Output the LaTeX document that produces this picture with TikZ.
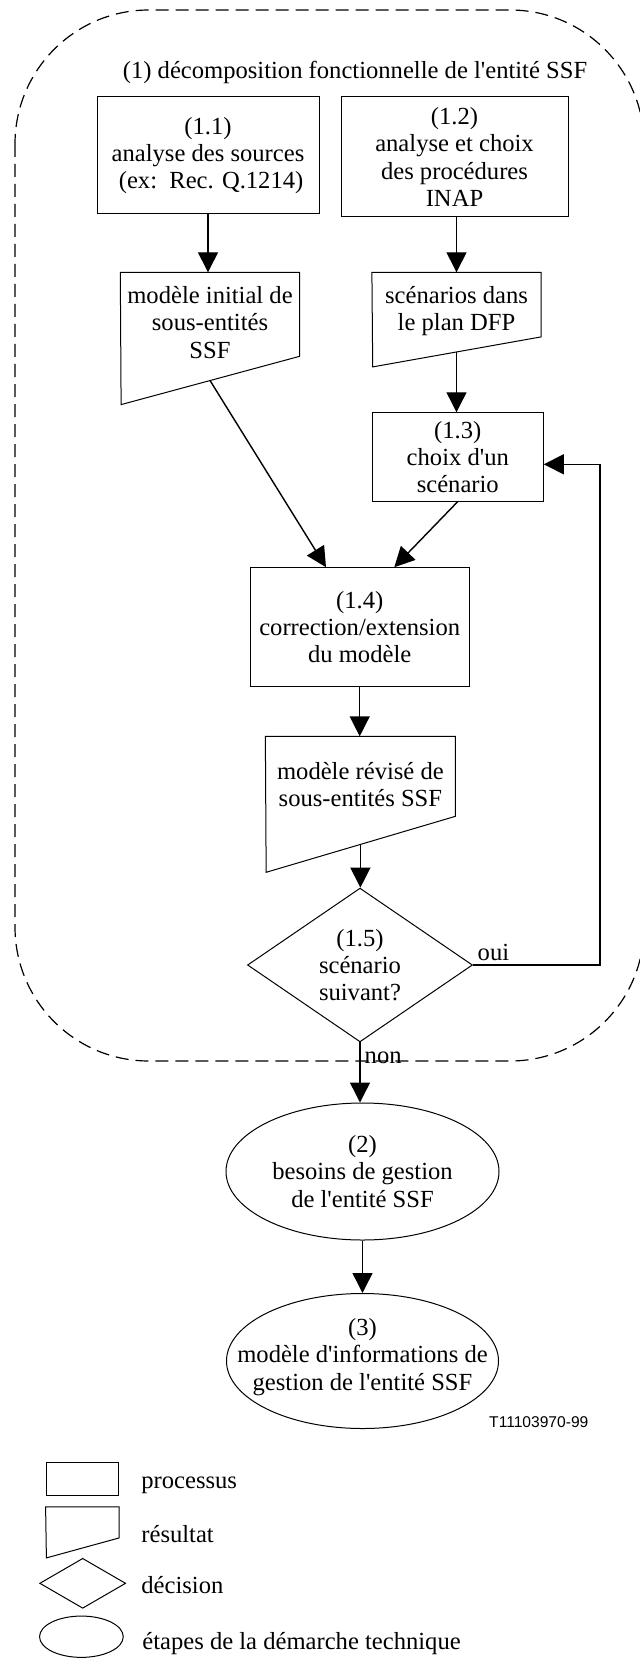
\documentclass[tikz,border=0pt]{standalone}
\usepackage{fontspec}
\setmainfont{Liberation Serif}
\newfontfamily\numfont{Liberation Sans}
\usetikzlibrary{shapes.geometric, arrows.meta}

\begin{document}
\begin{tikzpicture}[x=0.5pt, y=-0.5pt,
  font=\fontsize{12.3}{13.6}\selectfont,
  processus/.style={rectangle, draw=black, line width=0.5pt, inner sep=0pt, align=center},
  resultat/.style={rectangle, inner sep=0pt, align=center},
  decision/.style={diamond, draw=black, line width=0.5pt, inner sep=0pt, align=center},
  etape/.style={ellipse, draw=black, line width=0.5pt, inner sep=0pt},
  legende/.style={anchor=base west, inner sep=0pt},
  fleche/.style={line width=0.7pt, -{Triangle[length=10pt, width=10pt]}},
  cadre/.style={dash pattern=on 6.5pt off 3.5pt, line width=0.6pt, rounded corners=67pt}
]
\useasboundingbox (0,0) rectangle (640,1658);

\draw [cadre] (15,10) rectangle (644,1061);

\node (titre) at (355,72) {(1) décomposition fonctionnelle de l\textquotesingle entité SSF};
\node (p11) [processus, minimum width=111pt, minimum height=58.5pt] at (208,155.5) {(1.1)\\analyse des sources\\\ (ex:\ \ Rec. Q.1214)};
\node (p12) [processus, minimum width=113.5pt, minimum height=60pt] at (454.5,157) {(1.2)\\analyse et choix\\des procédures\\INAP};
\node (r11) [resultat, minimum width=89.3pt, minimum height=49.8pt] at (210,322.5) {modèle initial de\\sous-entités\\SSF};
\node (r12) [resultat, minimum width=84.2pt, minimum height=38.5pt] at (456.5,311.2) {scénarios dans\\le plan DFP};
\node (p13) [processus, minimum width=85.5pt, minimum height=44.15pt] at (457.8,456.9) {(1.3)\\choix d\textquotesingle un\\scénario};
\node (p14) [processus, minimum width=109.35pt, minimum height=59.5pt] at (359.7,627.2) {(1.4)\\correction/extension\\du modèle};
\node (r14) [resultat, minimum width=94.65pt, minimum height=47.8pt] at (360.4,784.5) {modèle révisé de\\sous-entités SSF};
\node (d15) [decision, minimum width=112.5pt, minimum height=65.5pt] at (360,965) {(1.5)\\scénario\\suivant?};
\node (e2) [etape, minimum width=136.5pt, minimum height=68.5pt,
  label={[name=e2t, align=center]center:{(2)\\besoins de gestion\\de l\textquotesingle entité SSF}}] at (362.5,1171.5) {};
\node (e3) [etape, minimum width=136pt, minimum height=67.5pt,
  label={[name=e3t, align=center, yshift=2pt]center:{(3)\\modèle d\textquotesingle informations de\\gestion de l\textquotesingle entité SSF}}] at (362.5,1361) {};
\node (num) [font=\numfont\fontsize{7.8}{9}\selectfont] at (538.8,1421.7) {T11103970-99};

\draw [line width=0.5pt] (r11.north west) -- (r11.north east) -- ++(0,84) -- ++(-178.6,48.3) -- cycle;
\draw [line width=0.5pt] (r12.north west) -- (r12.north east) -- ++(0,64.6) -- ++(-168.4,30) -- cycle;
\draw [line width=0.5pt] (r14.north west) -- (r14.north east) -- ++(0,80) -- ++(-189.3,56) -- cycle;

\coordinate (r11s) at ([yshift=-54.1pt]r11.north);
\coordinate (r12s) at ([yshift=-39.8pt]r12.north);
\coordinate (r14s) at ([yshift=-54pt]r14.north);
\coordinate (retour) at (600,700);

\draw [fleche] (p11.south) -- (p11.south |- r11.north);
\draw [fleche] (r12.north |- p12.south) -- (r12.north);
\draw [fleche] (r12s) -- (r12s |- p13.north);
\draw [fleche] (r11s) -- ([xshift=-16.85pt]p14.north);
\draw [fleche] (p13.south) -- ([xshift=17.3pt]p14.north);
\draw [fleche] (p14.south) -- (p14.south |- r14.north);
\draw [fleche] (r14s) -- (r14s |- d15.north);
\draw [fleche] (d15.east) node[anchor=base west, yshift=2.5pt, inner sep=2pt] {oui} -| (retour) |- ([yshift=-3.7pt]p13.east);
\draw [fleche] (d15.south) -- (d15.south |- e2.north) node[pos=0.35, anchor=base west, inner sep=2pt] {non};
\draw [fleche] (e2.south) -- (e3.north);

\node (lp) [processus, minimum width=36.4pt, minimum height=16.15pt] at (82.4,1478.9) {};
\node (lr) [resultat, minimum width=36.4pt, minimum height=15.5pt] at (82.4,1522.8) {};
\draw [line width=0.5pt] (lr.north west) -- (lr.north east) -- ++(0,31) -- ++(-72.8,20) -- cycle;
\node (ld) [decision, minimum width=43pt, minimum height=25pt] at (82.7,1583.3) {};
\node (le) [etape, minimum width=41.85pt, minimum height=20.65pt] at (81.4,1636.7) {};
\node (tp) [legende] at (141,1488) {processus};
\node (tr) [legende] at (141,1542.7) {résultat};
\node (td) [legende] at (141,1593) {décision};
\node (te) [legende] at (142,1649) {étapes de la démarche technique};

\end{tikzpicture}
\end{document}
